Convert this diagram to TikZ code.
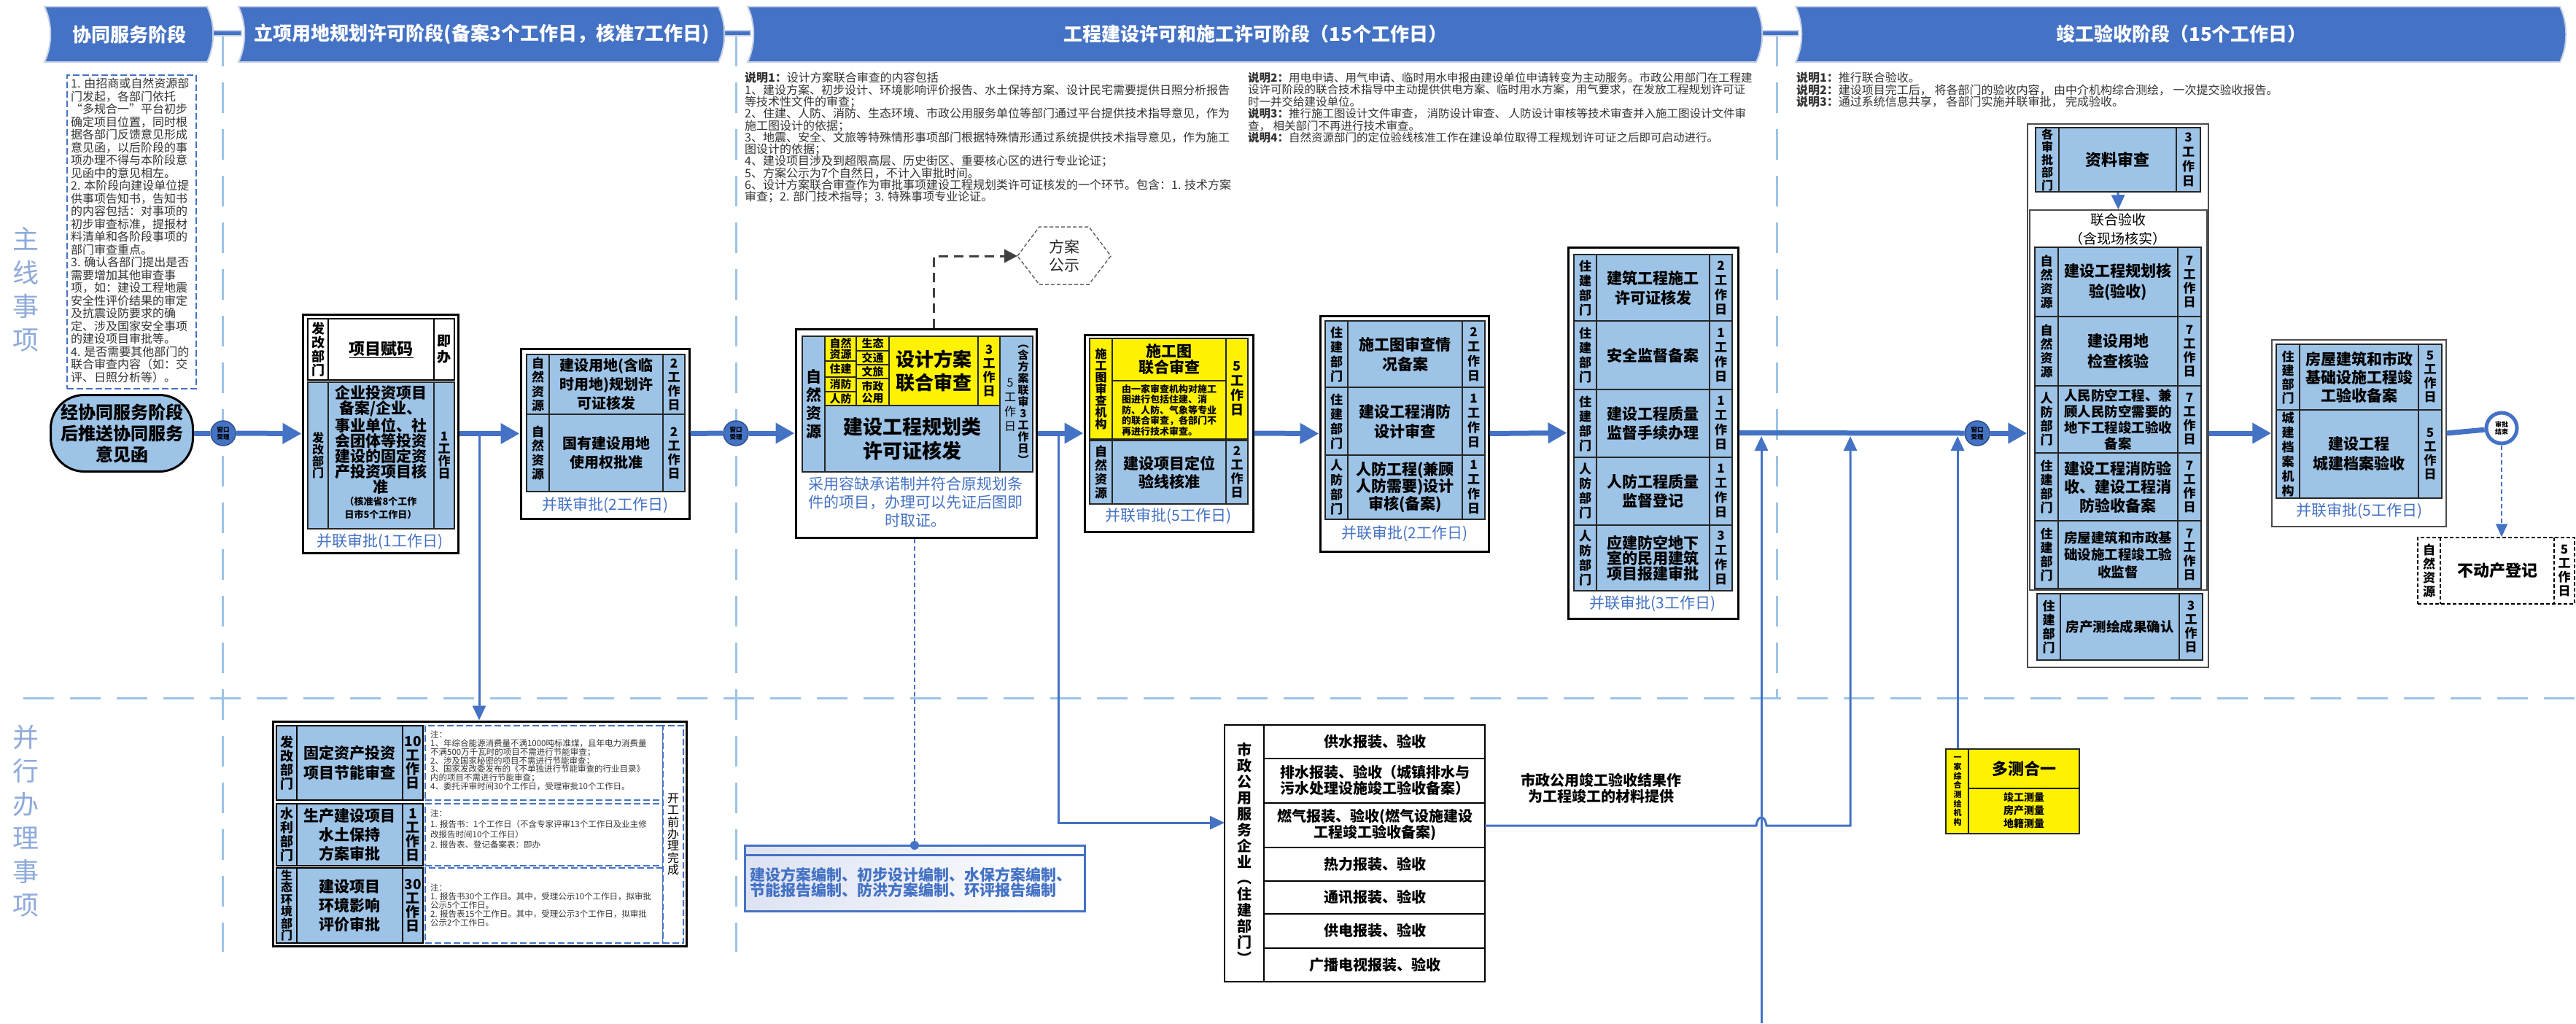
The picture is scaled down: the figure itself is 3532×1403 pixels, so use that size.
\documentclass[tikz,border=0pt]{standalone}
\usepackage{fontspec}
\setmainfont{Noto Sans CJK SC}
\usetikzlibrary{arrows.meta,fit,positioning}
\XeTeXlinebreaklocale "zh"
\XeTeXlinebreakskip=0pt plus 1pt

\definecolor{stageblue}{HTML}{4472C4}
\definecolor{stageedge}{HTML}{C5D0E6}
\definecolor{cellblue}{HTML}{9DC3E6}
\definecolor{divblue}{HTML}{9DC3E6}
\definecolor{lanetxt}{HTML}{8EAADB}
\definecolor{notegrey}{HTML}{333333}
\definecolor{lavender}{HTML}{DDE2F3}

\def\dfs{17}\def\dbs{20}
\def\tfs{21}\def\tbs{26}
\def\rfs{17}\def\rbs{20}
\def\lcol{31}\def\rcol{31}

\newcommand{\days}[1]{#1\\工\\作\\日}

\newcommand{\fitbox}[6]{%
  \coordinate (#1-nw) at (#3,#4);
  \coordinate (#1-se) at (#5,#6);
  \node[#2, fit=(#1-nw)(#1-se)] (#1) {};}

\newcommand{\itemrow}[9]{%
  \fitbox{#1}{#2}{#3}{#4}{#5}{#6}
  \draw[#2, fill=none] ({#3+\lcol},#4) -- ({#3+\lcol},#6) ({#5-\rcol},#4) -- ({#5-\rcol},#6);
  \node[deptext] (#1-d) at ({#3+\lcol/2},{(#4+#6)/2}) {#7};
  \node[tasktext] (#1-t) at ({(#3+\lcol+#5-\rcol)/2},{(#4+#6)/2}) {#8};
  \node[daytext] (#1-r) at ({#5-\rcol/2},{(#4+#6)/2}) {#9};}

\newcommand{\stagebar}[4]{%
  \path[stagebox] (#2,9) -- (#3,9) .. controls ({#3+11},32) and ({#3+11},62) .. (#3,85)
    -- (#2,85) .. controls ({#2+11},62) and ({#2+11},32) .. (#2,9) -- cycle;
  \node[stagetext] (#1) at ({(#2+#3)/2+5},47) {#4};}

\tikzset{
  stagebox/.style={fill=stageblue, draw=stageedge, line width=2pt},
  stagetext/.style={text=white, font=\bfseries\fontsize{26}{30}\selectfont},
  divider/.style={draw=divblue, line width=3pt, dash pattern=on 42pt off 22pt},
  outerbox/.style={draw=black, line width=3pt, fill=white, inner sep=0pt},
  thinbox/.style={draw=black!70, line width=1.5pt, fill=white, inner sep=0pt},
  cellbox/.style={draw=black!85, line width=1.5pt, fill=cellblue, inner sep=0pt},
  heavycell/.style={cellbox, draw=black, line width=2.5pt},
  yellowbox/.style={cellbox, fill=yellow},
  whitecell/.style={cellbox, fill=white, draw=black, line width=2pt},
  munibox/.style={draw=black, line width=2.5pt, fill=white, inner sep=0pt},
  deedbox/.style={draw=black, line width=1.5pt, dash pattern=on 5pt off 3pt, fill=white, inner sep=0pt},
  notebox/.style={draw=stageblue, line width=1.5pt, dash pattern=on 9pt off 4pt, fill=white, inner sep=0pt},
  planbox/.style={draw=stageblue, line width=3pt, left color=lavender, right color=white, inner sep=0pt},
  deptext/.style={font=\bfseries\fontsize{\dfs}{\dbs}\selectfont, align=center, inner sep=0pt},
  tasktext/.style={font=\bfseries\fontsize{\tfs}{\tbs}\selectfont, align=center, inner sep=0pt},
  daytext/.style={font=\bfseries\fontsize{\rfs}{\rbs}\selectfont, align=center, inner sep=0pt},
  smalltext/.style={font=\bfseries\fontsize{15}{15.5}\selectfont, align=center, inner sep=0pt},
  boldtext/.style={font=\bfseries\fontsize{20}{22}\selectfont, align=center, inner sep=0pt},
  captext/.style={text=stageblue, font=\fontsize{21}{25}\selectfont, align=center, inner sep=0pt},
  notetext/.style={text=notegrey, align=left, inner sep=0pt, anchor=north west},
  lanetext/.style={text=lanetxt, font=\fontsize{36}{46}\selectfont, align=center},
  startbox/.style={rectangle, rounded corners=46pt, minimum width=195pt, minimum height=105pt,
    fill=cellblue, draw=black, line width=3pt, inner sep=0pt, align=center,
    font=\bfseries\fontsize{24}{29}\selectfont},
  wincircle/.style={circle, fill=stageblue, draw=stageblue!70!black, line width=1.5pt,
    minimum size=34pt, inner sep=0pt, align=center, font=\bfseries\fontsize{8.5}{9.5}\selectfont},
  endcircle/.style={circle, fill=white, draw=stageblue, line width=5pt,
    minimum size=42pt, inner sep=0pt, align=center, font=\bfseries\fontsize{9}{10.5}\selectfont},
  hexline/.style={draw=black!60, line width=1.5pt, dash pattern=on 5pt off 3pt, fill=white},
  mainline/.style={draw=stageblue, line width=7pt},
  mainflow/.style={mainline, -{Triangle[length=26pt,width=27pt]}},
  subline/.style={draw=stageblue, line width=3pt},
  subflow/.style={subline, -{Triangle[length=20pt,width=18pt]}},
  dotline/.style={draw=stageblue, line width=2pt, dash pattern=on 6pt off 4pt},
  dotflow/.style={dotline, -{Triangle[length=18pt,width=16pt]}},
  greyflow/.style={draw=black!75, line width=3pt, dash pattern=on 13pt off 8pt,
    -{Triangle[length=18pt,width=18pt]}},
}

\begin{document}
\begin{tikzpicture}[x=1pt,y=-1pt]
  \useasboundingbox (0,0) rectangle (3532,1403);
  \fill[white] (0,0) rectangle (3532,1403);

  % lane dividers
  \draw[divider] (305,49) -- (305,1305);
  \draw[divider] (1009,49) -- (1009,1305);
  \draw[divider] (2436,49) -- (2436,957);
  \draw[divider] (32,957) -- (3532,957);

  % stage headers
  \path[stagebox] (288,42) rectangle (331,49);
  \path[stagebox] (990,42) rectangle (1029,49);
  \path[stagebox] (2414,42) rectangle (2466,49);
  \stagebar{stageA}{61}{284}{协同服务阶段}
  \stagebar{stageB}{327}{985}{立项用地规划许可阶段(备案3个工作日，核准7工作日)}
  \stagebar{stageC}{1025}{2408}{工程建设许可和施工许可阶段（15个工作日）}
  \stagebar{stageD}{2462}{3510}{竣工验收阶段（15个工作日）}

  \node[lanetext] (laneMain) at (35,397) {主\\线\\事\\项};
  \node[lanetext] (lanePar) at (35,1126) {并\\行\\办\\理\\事\\项};

  % notes
  \fitbox{svcNote}{notebox}{92}{103}{269}{533}
  \node[notetext, font=\fontsize{16}{17.5}\selectfont] (svcNoteText) at (97,107)
    {1. 由招商或自然资源部\\门发起，各部门依托\\“多规合一”平台初步\\确定项目位置，同时根\\据各部门反馈意见形成\\意见函，以后阶段的事\\项办理不得与本阶段意\\见函中的意见相左。\\2. 本阶段向建设单位提\\供事项告知书，告知书\\的内容包括：对事项的\\初步审查标准，提报材\\料清单和各阶段事项的\\部门审查重点。\\3. 确认各部门提出是否\\需要增加其他审查事\\项，如：建设工程地震\\安全性评价结果的审定\\及抗震设防要求的确\\定、涉及国家安全事项\\的建设项目审批等。\\4. 是否需要其他部门的\\联合审查内容（如：交\\评、日照分析等）。};
  \node[notetext, font=\fontsize{16}{16.3}\selectfont] (noteC1) at (1021,99)
    {{\bfseries 说明1：}设计方案联合审查的内容包括\\
     1、建设方案、初步设计、环境影响评价报告、水土保持方案、设计民宅需要提供日照分析报告\\
     等技术性文件的审查；\\
     2、住建、人防、消防、生态环境、市政公用服务单位等部门通过平台提供技术指导意见，作为\\
     施工图设计的依据；\\
     3、地震、安全、文旅等特殊情形事项部门根据特殊情形通过系统提供技术指导意见，作为施工\\
     图设计的依据；\\
     4、建设项目涉及到超限高层、历史街区、重要核心区的进行专业论证；\\
     5、方案公示为7个自然日，不计入审批时间。\\
     6、设计方案联合审查作为审批事项建设工程规划类许可证核发的一个环节。包含：1. 技术方案\\
     审查；2. 部门技术指导；3. 特殊事项专业论证。};
  \node[notetext, font=\fontsize{15.5}{16.4}\selectfont] (noteC2) at (1711,99)
    {{\bfseries 说明2：}用电申请、用气申请、临时用水申报由建设单位申请转变为主动服务。市政公用部门在工程建\\
     设许可阶段的联合技术指导中主动提供供电方案、临时用水方案，用气要求，在发放工程规划许可证\\
     时一并交给建设单位。\\
     {\bfseries 说明3：}推行施工图设计文件审查，\ 消防设计审查、\ 人防设计审核等技术审查并入施工图设计文件审\\
     查，\ 相关部门不再进行技术审查。\\
     {\bfseries 说明4：}自然资源部门的定位验线核准工作在建设单位取得工程规划许可证之后即可启动进行。};
  \node[notetext, font=\fontsize{16}{16.5}\selectfont] (noteD) at (2463,99)
    {{\bfseries 说明1：}推行联合验收。\\
     {\bfseries 说明2：}建设项目完工后，\ 将各部门的验收内容，\ 由中介机构综合测绘，\ 一次提交验收报告。\\
     {\bfseries 说明3：}通过系统信息共享，\ 各部门实施并联审批，\ 完成验收。};

  % start
  \node[startbox] (start) at (167,594) {经协同服务阶段\\后推送协同服务\\意见函};
  \node[wincircle] (win1) at (306,594) {窗口\\受理};
  \node[wincircle] (win2) at (1009,594) {窗口\\受理};
  \node[wincircle] (win3) at (2711,594) {窗口\\受理};

  % box A
  \fitbox{boxA}{outerbox}{415}{431}{628}{758}
  \def\lcol{28}\def\rcol{28}
  \def\dfs{18}\def\dbs{19}\def\tfs{22}\def\rfs{19}\def\rbs{22}
  \itemrow{rowA1}{whitecell}{422}{437}{623}{521}{发\\改\\部\\门}{\underline{项目赋码}}{即\\办}
  \def\dfs{16}\def\dbs{16}\def\rfs{17}\def\rbs{17}
  \itemrow{rowA2}{cellbox}{422}{524}{623}{725}{发\\改\\部\\门}{}{\days{1}}
  \node[tasktext, font=\bfseries\fontsize{21}{21}\selectfont] (rowA2-big) at (522,603)
    {企业投资项目\\备案/企业、\\事业单位、社\\会团体等投资\\建设的固定资\\产投资项目核\\准};
  \node[tasktext, font=\bfseries\fontsize{13}{18}\selectfont] (rowA2-small) at (522,697)
    {（核准省8个工作\\日市5个工作日）};
  \node[captext] (capA) at (521,743) {并联审批(1工作日)};

  % box B
  \fitbox{boxB}{outerbox}{714}{478}{945}{711}
  \def\lcol{31}\def\rcol{30}
  \def\dfs{17}\def\dbs{19.5}\def\tfs{20}\def\tbs{26}\def\rfs{17}\def\rbs{19}
  \itemrow{rowB1}{cellbox}{722}{486}{939}{568}{自\\然\\资\\源}{建设用地(含临\\时用地)规划许\\可证核发}{\days{2}}
  \itemrow{rowB2}{cellbox}{722}{568}{939}{674}{自\\然\\资\\源}{国有建设用地\\使用权批准}{\days{2}}
  \node[captext] (capB) at (830,693) {并联审批(2工作日)};

  % box C
  \fitbox{boxC}{outerbox}{1091}{451}{1421}{737}
  \fitbox{cC-left}{cellbox}{1100}{461}{1131}{647}
  \node[tasktext, font=\bfseries\fontsize{21}{25}\selectfont] (cC-left-t) at (cC-left) {自\\然\\资\\源};
  \fitbox{cC-a}{yellowbox}{1131}{461}{1174}{495}
  \fitbox{cC-b}{yellowbox}{1131}{495}{1174}{517}
  \fitbox{cC-c}{yellowbox}{1131}{517}{1174}{537}
  \fitbox{cC-d}{yellowbox}{1131}{537}{1174}{556}
  \fitbox{cC-e}{yellowbox}{1174}{461}{1219}{481}
  \fitbox{cC-f}{yellowbox}{1174}{481}{1219}{500}
  \fitbox{cC-g}{yellowbox}{1174}{500}{1219}{519}
  \fitbox{cC-h}{yellowbox}{1174}{519}{1219}{556}
  \node[smalltext] (cC-a-t) at (cC-a) {自然\\资源};
  \node[smalltext] (cC-b-t) at (cC-b) {住建};
  \node[smalltext] (cC-c-t) at (cC-c) {消防};
  \node[smalltext] (cC-d-t) at (cC-d) {人防};
  \node[smalltext] (cC-e-t) at (cC-e) {生态};
  \node[smalltext] (cC-f-t) at (cC-f) {交通};
  \node[smalltext] (cC-g-t) at (cC-g) {文旅};
  \node[smalltext] (cC-h-t) at (cC-h) {市政\\公用};
  \fitbox{cC-main}{yellowbox}{1219}{461}{1341}{556}
  \node[tasktext, font=\bfseries\fontsize{26}{32}\selectfont] (cC-main-t) at (cC-main) {设计方案\\联合审查};
  \fitbox{cC-days}{yellowbox}{1341}{461}{1371}{556}
  \node[daytext, font=\bfseries\fontsize{17}{19}\selectfont] (cC-days-t) at (cC-days) {\days{3}};
  \fitbox{cC-low}{cellbox}{1131}{556}{1371}{647}
  \node[tasktext, font=\bfseries\fontsize{27}{33}\selectfont] (cC-low-t) at (cC-low) {建设工程规划类\\许可证核发};
  \fitbox{cC-right}{cellbox}{1371}{461}{1416}{647}
  \node[daytext, font=\fontsize{16}{20}\selectfont] (cC-right-a) at (1385,555) {\days{5}};
  \node[daytext, font=\bfseries\fontsize{15}{16}\selectfont] (cC-right-b) at (1403,555)
    {︵\\含\\方\\案\\联\\审\\3\\工\\作\\日\\︶};
  \node[captext] (capC) at (1255,688) {采用容缺承诺制并符合原规划条\\件的项目，办理可以先证后图即\\时取证。};

  % scheme publicity
  \draw[hexline] (1395,351) -- (1425,311) -- (1493,311) -- (1523,351) -- (1493,390) -- (1425,390) -- cycle;
  \node[align=center, text=black!85, font=\fontsize{21}{25}\selectfont] (hexA) at (1459,351) {方案\\公示};
  \coordinate (hexA-w) at (1395,351);
  \draw[greyflow] (boxC.north -| cC-main) |- (hexA-w);

  % box D
  \fitbox{boxD}{outerbox}{1487}{459}{1718}{729}
  \fitbox{cD-l}{yellowbox}{1494}{464}{1525}{602}
  \node[deptext, font=\bfseries\fontsize{16}{16}\selectfont] (cD-l-t) at (cD-l) {施\\工\\图\\审\\查\\机\\构};
  \fitbox{cD-t}{yellowbox}{1525}{464}{1681}{522}
  \node[tasktext, font=\bfseries\fontsize{21}{22}\selectfont] (cD-t-t) at (cD-t) {施工图\\联合审查};
  \fitbox{cD-m}{yellowbox}{1525}{522}{1681}{602}
  \node[font=\bfseries\fontsize{13}{14.5}\selectfont, align=left, inner sep=0pt] (cD-m-t) at (cD-m)
    {由一家审查机构对施工\\图进行包括住建、消\\防、人防、气象等专业\\的联合审查，各部门不\\再进行技术审查。};
  \fitbox{cD-r}{yellowbox}{1681}{464}{1711}{602}
  \node[daytext, font=\bfseries\fontsize{18}{20}\selectfont] (cD-r-t) at (cD-r) {\days{5}};
  \def\lcol{31}\def\rcol{30}
  \def\dfs{17}\def\dbs{19}\def\tfs{21}\def\tbs{25}\def\rfs{17}\def\rbs{19}
  \itemrow{rowD2}{cellbox}{1494}{604}{1711}{691}{自\\然\\资\\源}{建设项目定位\\验线核准}{\days{2}}
  \node[captext] (capD) at (1602,708) {并联审批(5工作日)};

  % box E
  \fitbox{boxE}{outerbox}{1810}{433}{2041}{756}
  \def\lcol{31}\def\rcol{31}
  \def\dfs{17}\def\dbs{20}\def\tfs{21}\def\tbs{27}\def\rfs{17}\def\rbs{20}
  \itemrow{rowE1}{cellbox}{1817}{440}{2036}{531}{住\\建\\部\\门}{施工图审查情\\况备案}{\days{2}}
  \itemrow{rowE2}{cellbox}{1817}{531}{2036}{624}{住\\建\\部\\门}{建设工程消防\\设计审查}{\days{1}}
  \def\tbs{22}
  \itemrow{rowE3}{cellbox}{1817}{624}{2036}{712}{人\\防\\部\\门}{人防工程(兼顾\\人防需要)设计\\审核(备案)}{\days{1}}
  \node[captext] (capE) at (1926,732) {并联审批(2工作日)};

  % box F
  \fitbox{boxF}{outerbox}{2150}{339}{2383}{848}
  \def\tbs{27}
  \itemrow{rowF1}{cellbox}{2158}{349}{2375}{440}{住\\建\\部\\门}{建筑工程施工\\许可证核发}{\days{2}}
  \itemrow{rowF2}{cellbox}{2158}{440}{2375}{534}{住\\建\\部\\门}{安全监督备案}{\days{1}}
  \def\tbs{26}
  \itemrow{rowF3}{cellbox}{2158}{534}{2375}{627}{住\\建\\部\\门}{建设工程质量\\监督手续办理}{\days{1}}
  \itemrow{rowF4}{cellbox}{2158}{627}{2375}{720}{人\\防\\部\\门}{人防工程质量\\监督登记}{\days{1}}
  \def\tbs{21}
  \itemrow{rowF5}{cellbox}{2158}{720}{2375}{810}{人\\防\\部\\门}{应建防空地下\\室的民用建筑\\项目报建审批}{\days{3}}
  \node[captext] (capF) at (2266,828) {并联审批(3工作日)};

  % completion acceptance
  \fitbox{accOuter}{thinbox}{2780}{170}{3028}{915}
  \def\lcol{32}\def\rcol{33}
  \def\dfs{16}\def\dbs{17.5}\def\tfs{22}\def\tbs{26}\def\rfs{17}\def\rbs{20}
  \itemrow{rowG}{cellbox}{2791}{175}{3017}{263}{各\\审\\批\\部\\门}{资料审查}{\days{3}}
  \fitbox{joint}{thinbox}{2783}{288}{3026}{809}
  \node[align=center, font=\fontsize{19}{26}\selectfont] (jointTitle) at (2904,314) {联合验收\\（含现场核实）};
  \draw[subflow] (rowG.south) -- (joint.north);
  \def\lcol{32}\def\rcol{32}
  \def\dfs{17}\def\dbs{19}\def\tfs{21}\def\tbs{28}\def\rfs{17}\def\rbs{19}
  \itemrow{rowJ1}{cellbox}{2790}{339}{3018}{434}{自\\然\\资\\源}{建设工程规划核\\验(验收)}{\days{7}}
  \itemrow{rowJ2}{cellbox}{2790}{434}{3018}{529}{自\\然\\资\\源}{建设用地\\检查核验}{\days{7}}
  \def\tfs{18.5}\def\tbs{22}
  \itemrow{rowJ3}{cellbox}{2790}{529}{3018}{621}{人\\防\\部\\门}{人民防空工程、兼\\顾人民防空需要的\\地下工程竣工验收\\备案}{\days{7}}
  \def\tfs{21}\def\tbs{25.5}
  \itemrow{rowJ4}{cellbox}{2790}{621}{3018}{714}{住\\建\\部\\门}{建设工程消防验\\收、建设工程消\\防验收备案}{\days{7}}
  \def\tfs{18.5}\def\tbs{23.5}
  \itemrow{rowJ5}{cellbox}{2790}{714}{3018}{807}{住\\建\\部\\门}{房屋建筑和市政基\\础设施工程竣工验\\收监督}{\days{7}}
  \itemrow{rowJ6}{cellbox}{2793}{814}{3020}{905}{住\\建\\部\\门}{房产测绘成果确认}{\days{3}}

  % box H
  \fitbox{boxH}{thinbox}{3115}{466}{3354}{722}
  \def\tfs{21}\def\tbs{25}
  \itemrow{rowH1}{cellbox}{3121}{472}{3348}{562}{住\\建\\部\\门}{房屋建筑和市政\\基础设施工程竣\\工验收备案}{\days{5}}
  \def\tbs{27}\def\dbs{20}
  \itemrow{rowH2}{cellbox}{3121}{562}{3348}{683}{城\\建\\档\\案\\机\\构}{建设工程\\城建档案验收}{\days{5}}
  \node[captext] (capH) at (3235,701) {并联审批(5工作日)};

  \node[endcircle] (endc) at (3430,587) {审批\\结束};
  \def\lcol{31}\def\rcol{28}
  \def\dbs{19}\def\tfs{22}
  \itemrow{deed}{deedbox}{3315}{737}{3530}{828}{自\\然\\资\\源}{不动产登记}{\days{5}}

  % parallel items
  \fitbox{parbox}{outerbox}{374}{989}{941}{1297}
  \def\lcol{28}\def\rcol{28}
  \def\dfs{18}\def\dbs{19}\def\tfs{21}\def\tbs{27}\def\rfs{19}\def\rbs{19}
  \itemrow{parR1}{heavycell}{379}{995}{580}{1097}{发\\改\\部\\门}{固定资产投资\\项目节能审查}{10\\工\\作\\日}
  \def\tbs{26}
  \itemrow{parR2}{heavycell}{379}{1102}{580}{1187}{水\\利\\部\\门}{生产建设项目\\水土保持\\方案审批}{\days{1}}
  \def\dfs{16}\def\dbs{16.5}
  \itemrow{parR3}{heavycell}{379}{1190}{580}{1293}{生\\态\\环\\境\\部\\门}{建设项目\\环境影响\\评价审批}{30\\工\\作\\日}
  \fitbox{parN1}{notebox}{583}{995}{909}{1097}
  \fitbox{parN2}{notebox}{583}{1102}{909}{1187}
  \fitbox{parN3}{notebox}{583}{1190}{909}{1293}
  \fitbox{parDone}{notebox}{909}{995}{937}{1293}
  \node[align=center, inner sep=0pt, font=\fontsize{16}{16.3}\selectfont] (parDone-t) at (parDone) {开\\工\\前\\办\\理\\完\\成};
  \node[notetext, font=\fontsize{11.5}{11.7}\selectfont] (parN1-t) at (590,1002)
    {注：\\1、年综合能源消费量不满1000吨标准煤，且年电力消费量\\不满500万千瓦时的项目不需进行节能审查；\\2、涉及国家秘密的项目不需进行节能审查；\\3、国家发改委发布的《不单独进行节能审查的行业目录》\\内的项目不需进行节能审查；\\4、委托评审时间30个工作日，受理审批10个工作日。};
  \node[notetext, font=\fontsize{11.5}{14.2}\selectfont] (parN2-t) at (590,1110)
    {注：\\1. 报告书：1个工作日（不含专家评审13个工作日及业主修\\改报告时间10个工作日）\\2. 报告表、登记备案表：即办};
  \node[notetext, font=\fontsize{11.5}{11.8}\selectfont] (parN3-t) at (590,1212)
    {注：\\1. 报告书30个工作日。其中，受理公示10个工作日，拟审批\\公示5个工作日。\\2. 报告表15个工作日。其中，受理公示3个工作日，拟审批\\公示2个工作日。};

  % plan writing
  \fitbox{planbox}{planbox}{1021}{1159}{1487}{1249}
  \draw[draw=stageblue, line width=3pt] ([yshift=-15pt]planbox.north west) -- ([yshift=-15pt]planbox.north east);
  \node[anchor=west, align=left, inner sep=0pt, text=stageblue, font=\bfseries\fontsize{21}{21}\selectfont] (planText) at (1028,1210)
    {建设方案编制、初步设计编制、水保方案编制、\\节能报告编制、防洪方案编制、环评报告编制};
  \coordinate (planDot) at (1254,1159);
  \draw[dotline] (boxC.south -| planDot) -- (planDot);
  \fill[stageblue] (planDot) circle (6pt);

  % municipal services
  \fitbox{muni}{munibox}{1679}{994}{2036}{1346}
  \draw[black, line width=2.5pt] (1733,994) -- (1733,1346)
    (1733,1040) -- (2036,1040) (1733,1101) -- (2036,1101) (1733,1162) -- (2036,1162)
    (1733,1208) -- (2036,1208) (1733,1253) -- (2036,1253) (1733,1300) -- (2036,1300);
  \node[boldtext] (muniDept) at (1706,1170) {市\\政\\公\\用\\服\\务\\企\\业\\︵\\住\\建\\部\\门\\︶};
  \node[boldtext] (muniR1) at (1885,1017) {供水报装、验收};
  \node[boldtext] (muniR2) at (1885,1070) {排水报装、验收（城镇排水与\\污水处理设施竣工验收备案）};
  \node[boldtext] (muniR3) at (1885,1131) {燃气报装、验收(燃气设施建设\\工程竣工验收备案)};
  \node[boldtext] (muniR4) at (1885,1185) {热力报装、验收};
  \node[boldtext] (muniR5) at (1885,1230) {通讯报装、验收};
  \node[boldtext] (muniR6) at (1885,1276) {供电报装、验收};
  \node[boldtext] (muniR7) at (1885,1323) {广播电视报装、验收};
  \node[boldtext] (muniNote) at (2195,1081) {市政公用竣工验收结果作\\为工程竣工的材料提供};

  % surveying
  \fitbox{survey}{yellowbox}{2668}{1027}{2851}{1143}
  \draw[draw=black, line width=2pt] (2699,1027) -- (2699,1143) (2699,1081) -- (2851,1081);
  \node[deptext, font=\bfseries\fontsize{11}{12.7}\selectfont] (survey-d) at (2684,1085) {一\\家\\综\\合\\测\\绘\\机\\构};
  \node[tasktext, font=\bfseries\fontsize{22}{24}\selectfont] (survey-t) at (2775,1054) {多测合一};
  \node[tasktext, font=\bfseries\fontsize{14}{18}\selectfont] (survey-b) at (2775,1111) {竣工测量\\房产测量\\地籍测量};

  % main flow
  \draw[mainline] (start.east) -- (win1.west);
  \draw[mainflow] (win1.east) -- (boxA.west);
  \draw[mainflow] (boxA.east) -- (boxB.west);
  \draw[mainline] (boxB.east) -- (win2.west);
  \draw[mainflow] (win2.east) -- (boxC.west);
  \draw[mainflow] (boxC.east) -- (boxD.west);
  \draw[mainflow] (boxD.east) -- (boxE.west);
  \draw[mainflow] (boxE.east) -- (boxF.west);
  \draw[mainline] (boxF.east) -- (win3.west);
  \draw[mainflow] (win3.east) -- (win3.east -| accOuter.west);
  \draw[mainflow] (accOuter.east |- boxH.west) -- (boxH.west);
  \draw[mainline] (boxH.east) -- (endc);
  \draw[dotflow] (endc.south) -- (endc.south |- deed.north);

  % side branches
  \coordinate (brA) at (657,594);
  \coordinate (brC) at (1451,594);
  \coordinate (muniIn) at (1679,1128);
  \coordinate (muniOut) at (2036,1132);
  \coordinate (feedA) at (2415,1403);
  \coordinate (joinA) at (2415,598);
  \coordinate (joinB) at (2537,598);
  \coordinate (joinC) at (2684,598);
  \draw[subflow] (brA) -- (brA |- parbox.north);
  \draw[subflow] (brC) |- (muniIn);
  \draw[subflow] (feedA) -- (joinA);
  \draw[subflow] (muniOut) -- (2408,1132) .. controls (2410,1117) and (2420,1117) .. (2422,1132) -- (2537,1132) -- (joinB);
  \draw[subflow] (survey.north -| joinC) -- (joinC);
\end{tikzpicture}
\end{document}
